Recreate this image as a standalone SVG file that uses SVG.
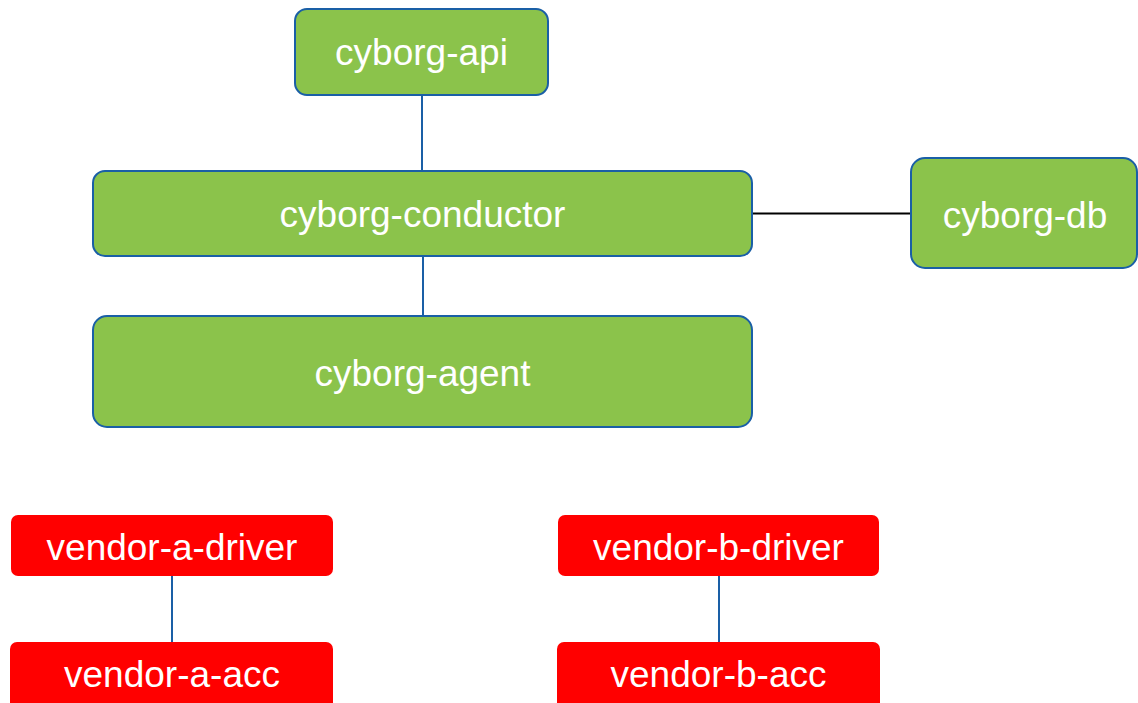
<svg xmlns="http://www.w3.org/2000/svg" width="1138" height="703" viewBox="0 0 1138 703">
<style>
.g{fill:#8bc34b;stroke:#1a5fa6;stroke-width:2}
.r{fill:#ff0000;stroke:none}
.t{font-family:"Liberation Sans",Arial,sans-serif;font-size:37px;fill:#ffffff;text-anchor:middle}
.c{stroke:#1a5fa6;stroke-width:2;fill:none}
.k{stroke:#000000;stroke-width:2;fill:none}
</style>
<rect width="1138" height="703" fill="#ffffff"/>
<g id="connectors">
<line class="c" x1="422" y1="95" x2="422" y2="171"/>
<line class="c" x1="423" y1="257" x2="423" y2="316"/>
<line class="k" x1="752" y1="213.5" x2="911" y2="213.5"/>
<line class="c" x1="172" y1="576" x2="172" y2="643"/>
<line class="c" x1="719" y1="576" x2="719" y2="643"/>
</g>
<g id="cyborg-api">
<rect class="g" x="295" y="9" width="253" height="86" rx="12"/>
<text class="t" x="421.5" y="65">cyborg-api</text>
</g>
<g id="cyborg-conductor">
<rect class="g" x="93" y="171" width="659" height="85" rx="12"/>
<text class="t" x="422.5" y="227">cyborg-conductor</text>
</g>
<g id="cyborg-db">
<rect class="g" x="911" y="158" width="226" height="110" rx="14"/>
<text class="t" x="1025" y="228">cyborg-db</text>
</g>
<g id="cyborg-agent">
<rect class="g" x="93" y="316" width="659" height="111" rx="14"/>
<text class="t" x="422.5" y="386">cyborg-agent</text>
</g>
<g id="vendor-a-driver">
<rect class="r" x="11" y="515" width="322" height="61" rx="7"/>
<text class="t" x="172" y="560">vendor-a-driver</text>
</g>
<g id="vendor-a-acc">
<rect class="r" x="10" y="642" width="323" height="70" rx="7"/>
<text class="t" x="172" y="687">vendor-a-acc</text>
</g>
<g id="vendor-b-driver">
<rect class="r" x="558" y="515" width="321" height="61" rx="7"/>
<text class="t" x="718.5" y="560">vendor-b-driver</text>
</g>
<g id="vendor-b-acc">
<rect class="r" x="557" y="642" width="323" height="70" rx="7"/>
<text class="t" x="718.5" y="687">vendor-b-acc</text>
</g>
</svg>
